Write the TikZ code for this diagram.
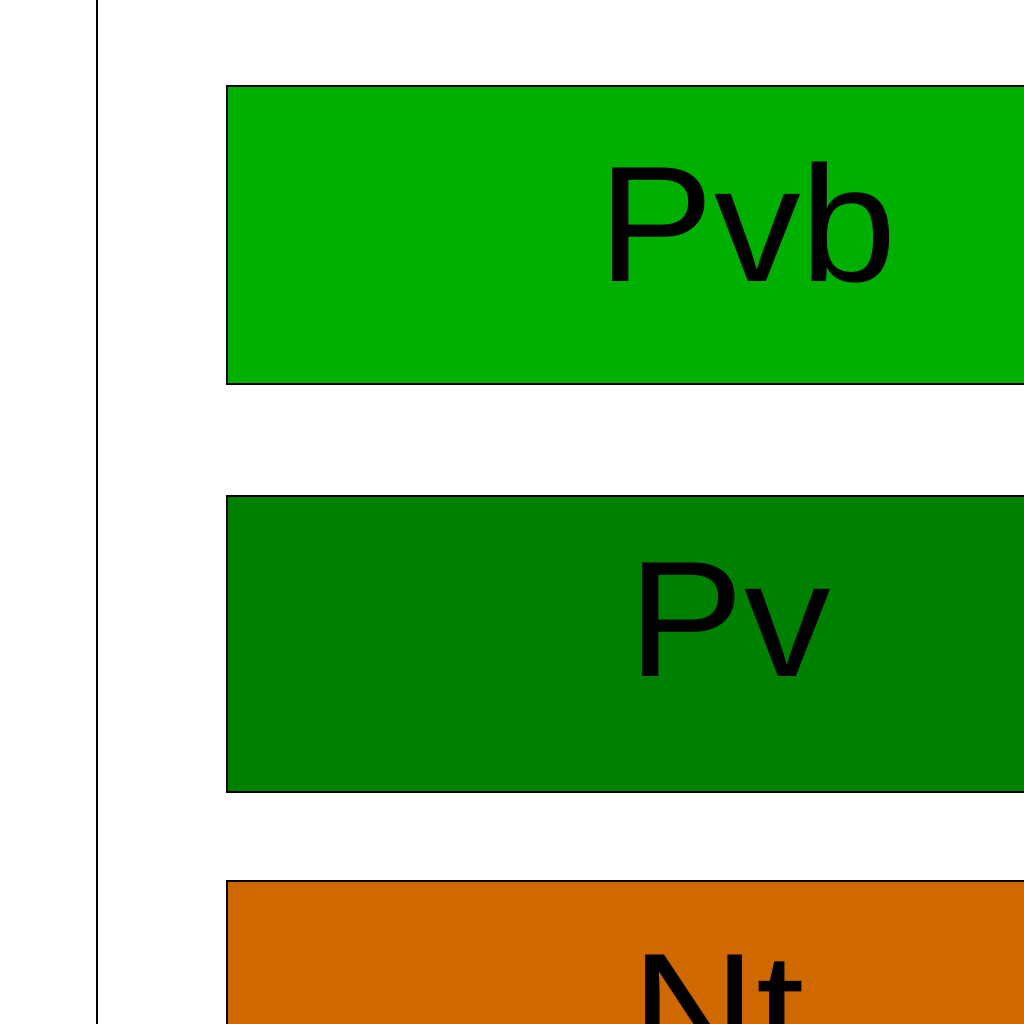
\documentclass[tikz,border=0pt]{standalone}
\usepackage{fontspec}
\setmainfont{Liberation Sans}
\definecolor{lightgreen}{RGB}{0,176,0}
\definecolor{darkgreen}{RGB}{0,128,0}
\definecolor{rust}{RGB}{208,104,0}
\tikzset{
  band/.style={draw=black,line width=2pt},
  tag/.style={inner sep=0pt,anchor=base,xscale=1.05,font=\fontsize{165}{165}\selectfont}
}
\begin{document}
\begin{tikzpicture}[x=1pt,y=-1pt]
\useasboundingbox (0,0) rectangle (1024,1024);
\clip (0,0) rectangle (1024,1024);
\draw[line width=2pt] (97,-5) -- (97,1030);
\draw[band,fill=lightgreen] (227,86) rectangle (1100,384);
\draw[band,fill=darkgreen] (227,496) rectangle (1100,792);
\draw[band,fill=rust] (227,881) rectangle (1100,1200);
\node[tag] (pvb) at (748,281) {Pvb};
\node[tag] (pv) at (730,676) {Pv};
\node[tag] (nt) at (718,1068) {Nt};
\end{tikzpicture}
\end{document}
